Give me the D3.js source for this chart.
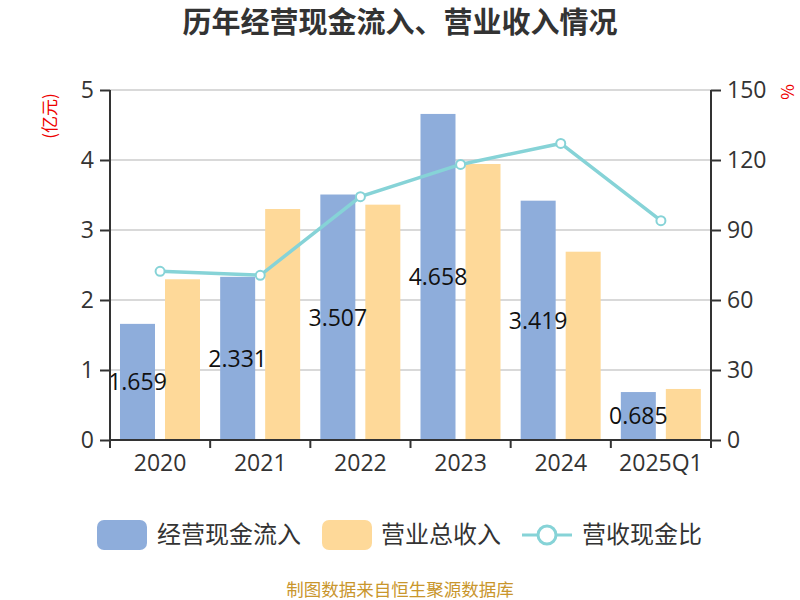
<!DOCTYPE html>
<html><head><meta charset="utf-8">
<script src="https://cdn.jsdelivr.net/npm/d3@7"></script>
<style>body{margin:0;background:#fff;font-family:"Noto Sans CJK SC","Noto Sans",sans-serif;}</style>
</head><body><svg id="c" width="800" height="600"></svg>
<script>
const categories = ["2020","2021","2022","2023","2024","2025Q1"];
const cashInflow = [1.659, 2.331, 3.507, 4.658, 3.419, 0.685];
const revenue = [2.296, 3.30, 3.362, 3.943, 2.69, 0.729];
const ratio = [72.3, 70.6, 104.3, 118.1, 127.1, 94.0];
const leftTicks = [0,1,2,3,4,5];
const rightTicks = [0,30,60,90,120,150];
const seriesNames = ["经营现金流入","营业总收入","营收现金比"];

const svg = d3.select("#c");
const L=110, R=711, T=90, B=440;
const font = '"Noto Sans CJK SC","Noto Sans",sans-serif';
const numFont = '"Open Sans","Noto Sans",sans-serif';
const x = d3.scaleBand().domain(categories).range([L,R]).paddingInner(0).paddingOuter(0);
const yL = d3.scaleLinear().domain([0,5]).range([B,T]);
const yR = d3.scaleLinear().domain([0,150]).range([B,T]);
const blue="#8eaddb", orange="#fed999", lineC="#86d3d7";

// title
svg.append("text").attr("x",400).attr("y",33).attr("text-anchor","middle")
  .attr("font-size",29).attr("font-weight","bold").attr("fill","#333").attr("font-family",font)
  .text("历年经营现金流入、营业收入情况");

// gridlines
svg.append("g").selectAll("line").data(leftTicks.filter(d=>d>0)).join("line")
  .attr("x1",L).attr("x2",R).attr("y1",d=>yL(d)).attr("y2",d=>yL(d))
  .attr("stroke","#ccc").attr("stroke-width",1.5);

const bw = 35, pad = 10;
const g = svg.append("g");
g.selectAll(".b1").data(categories).join("rect")
  .attr("x",d=>x(d)+pad).attr("width",bw)
  .attr("y",(d,i)=>yL(cashInflow[i])).attr("height",(d,i)=>B-yL(cashInflow[i]))
  .attr("fill",blue);
g.selectAll(".b2").data(categories).join("rect")
  .attr("x",d=>x(d)+pad*2+bw).attr("width",bw)
  .attr("y",(d,i)=>yL(revenue[i])).attr("height",(d,i)=>B-yL(revenue[i]))
  .attr("fill",orange);

// line
const line = d3.line().x((d,i)=>x(categories[i])+x.bandwidth()/2).y(d=>yR(d));
svg.append("path").datum(ratio).attr("d",line).attr("fill","none")
  .attr("stroke",lineC).attr("stroke-width",3.5);
svg.append("g").selectAll("circle").data(ratio).join("circle")
  .attr("cx",(d,i)=>x(categories[i])+x.bandwidth()/2).attr("cy",d=>yR(d)).attr("r",4.5)
  .attr("fill","#fff").attr("stroke",lineC).attr("stroke-width",2);

// labels
svg.append("g").selectAll("text").data(cashInflow).join("text")
  .attr("x",(d,i)=>x(categories[i])+pad+bw/2)
  .attr("y",d=>(yL(d)+B)/2).attr("dy","0.36em").attr("text-anchor","middle")
  .attr("font-size",23).attr("fill","#111").attr("font-family",numFont)
  .text(d=>d.toFixed(3));

// axes
const axisColor="#333";
const la = svg.append("g").attr("transform",`translate(${L},0)`)
  .call(d3.axisLeft(yL).tickValues(leftTicks).tickSize(10).tickPadding(6).tickFormat(d3.format("d")));
const ra = svg.append("g").attr("transform",`translate(${R},0)`)
  .call(d3.axisRight(yR).tickValues(rightTicks).tickSize(10).tickPadding(6).tickFormat(d3.format("d")));
const xa = svg.append("g").attr("transform",`translate(0,${B})`)
  .call(d3.axisBottom(x).tickSize(0).tickPadding(15));
[la,ra,xa].forEach(a=>{
  a.select(".domain").remove();
  a.selectAll("line").attr("stroke",axisColor).attr("stroke-width",2);
  a.selectAll("text").attr("font-size",23).attr("fill","#333").attr("font-family",numFont);
});
// axis lines
svg.append("line").attr("x1",L).attr("x2",L).attr("y1",T).attr("y2",B+8).attr("stroke",axisColor).attr("stroke-width",2);
svg.append("line").attr("x1",R).attr("x2",R).attr("y1",T).attr("y2",B+8).attr("stroke",axisColor).attr("stroke-width",2);
svg.append("line").attr("x1",L).attr("x2",R).attr("y1",B).attr("y2",B).attr("stroke",axisColor).attr("stroke-width",2);
// x ticks at band boundaries
svg.append("g").selectAll("line").data(categories.slice(1)).join("line")
  .attr("x1",d=>x(d)).attr("x2",d=>x(d)).attr("y1",B).attr("y2",B+8)
  .attr("stroke",axisColor).attr("stroke-width",2);

// axis units
svg.append("text").attr("transform","translate(56,116) rotate(-90)").attr("text-anchor","middle")
  .attr("font-size",17).attr("fill","#e00").attr("font-family",font).text("(亿元)");
svg.append("text").attr("transform","translate(794,92) rotate(-90)").attr("text-anchor","middle")
  .attr("font-size",17).attr("fill","#e00").attr("font-family",font).text("%");

// legend
const lg = svg.append("g").attr("font-family",font);
const ly = 535;
lg.append("rect").attr("x",97).attr("y",ly-15).attr("width",50).attr("height",30).attr("rx",7).attr("fill",blue);
lg.append("text").attr("x",157).attr("y",ly).attr("dy","0.35em").attr("font-size",24).attr("fill","#333").text(seriesNames[0]);
lg.append("rect").attr("x",322).attr("y",ly-15).attr("width",50).attr("height",30).attr("rx",7).attr("fill",orange);
lg.append("text").attr("x",381).attr("y",ly).attr("dy","0.35em").attr("font-size",24).attr("fill","#333").text(seriesNames[1]);
lg.append("line").attr("x1",522).attr("x2",572).attr("y1",ly).attr("y2",ly).attr("stroke",lineC).attr("stroke-width",3);
lg.append("circle").attr("cx",547).attr("cy",ly).attr("r",9).attr("fill","#fff").attr("stroke",lineC).attr("stroke-width",3);
lg.append("text").attr("x",582).attr("y",ly).attr("dy","0.35em").attr("font-size",24).attr("fill","#333").text(seriesNames[2]);

// footer
svg.append("text").attr("x",400).attr("y",596).attr("text-anchor","middle")
  .attr("font-size",17.5).attr("fill","#c9962c").attr("font-family",font).text("制图数据来自恒生聚源数据库");
</script></body></html>
